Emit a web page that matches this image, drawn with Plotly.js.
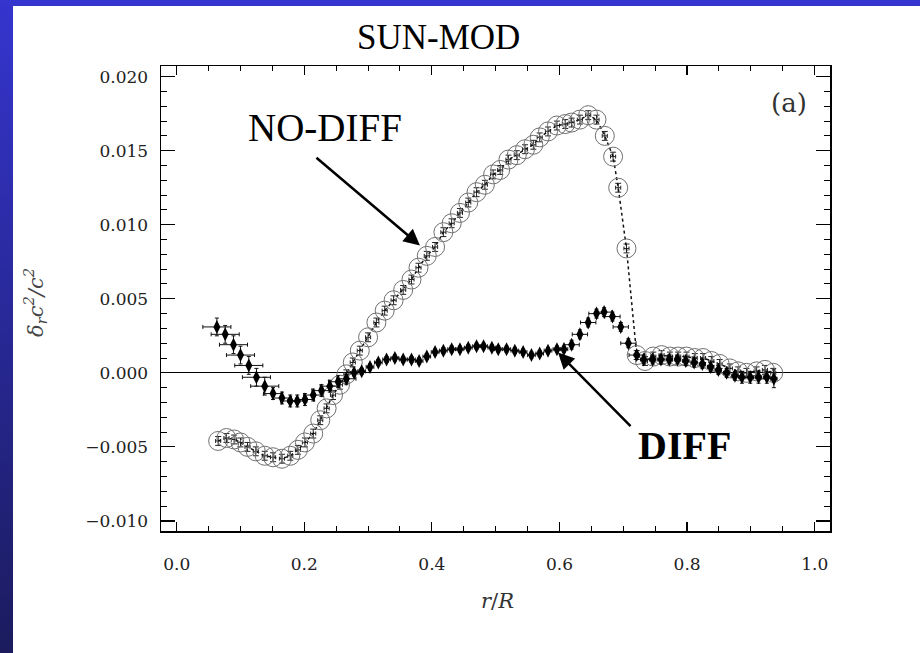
<!DOCTYPE html>
<html>
<head>
<meta charset="utf-8">
<script src="https://cdn.plot.ly/plotly-3.0.1.min.js"></script>
<style>
  html, body { margin: 0; padding: 0; }
  #frame { position: relative; width: 920px; height: 653px; background: linear-gradient(to bottom, #3535cf, #1b1b5e); overflow: hidden; }
  #panel { position: absolute; left: 13px; top: 6px; width: 907px; height: 647px; background: #ffffff; }
  #chart { position: absolute; left: 0; top: 0; width: 920px; height: 653px; }
</style>
</head>
<body>
<div id="frame"><div id="panel"></div><div id="chart"></div></div>
<script>
// NO-DIFF (open circles)
const xNoDiff = [0.065,0.078,0.090,0.100,0.111,0.124,0.138,0.151,0.165,0.178,0.190,0.201,0.214,0.225,0.235,0.245,0.256,0.266,0.276,0.287,
  0.300,0.313,0.326,0.340,0.355,0.368,0.379,0.392,0.405,0.418,0.431,0.444,0.457,0.470,0.483,0.496,0.507,0.520,0.533,0.546,
  0.559,0.569,0.582,0.596,0.609,0.619,0.632,0.645,0.658,0.671,0.684,0.692,0.705,0.721,0.734,0.747,0.760,0.773,0.786,0.799,
  0.812,0.825,0.838,0.851,0.867,0.880,0.893,0.909,0.922,0.935];
const yNoDiff = [-0.0046,-0.0044,-0.0045,-0.0047,-0.0050,-0.0053,-0.0056,-0.0057,-0.0058,-0.0056,-0.0052,-0.0047,-0.0041,-0.0032,-0.0024,-0.0015,-0.0008,-0.0001,0.0007,0.0015,
  0.0024,0.0034,0.0042,0.0049,0.0056,0.0063,0.0071,0.0079,0.0085,0.0095,0.0101,0.0108,0.0115,0.0122,0.0127,0.0134,0.0137,0.0144,0.0147,0.0151,
  0.0154,0.0159,0.0163,0.0167,0.0168,0.0169,0.0171,0.0174,0.0171,0.0160,0.0146,0.0125,0.0084,0.0012,0.0008,0.0011,0.0012,0.0011,0.0011,0.0011,
  0.0010,0.0010,0.0008,0.0006,0.0003,0.0001,0.0000,0.0001,0.0002,0.0000];

// DIFF (filled diamonds)
const xDiff = [0.063,0.076,0.089,0.100,0.113,0.125,0.138,0.151,0.165,0.178,0.189,0.201,0.214,0.227,0.240,0.253,0.266,0.278,0.290,0.303,
  0.316,0.329,0.342,0.355,0.368,0.380,0.392,0.405,0.418,0.431,0.444,0.457,0.470,0.481,0.494,0.504,0.517,0.530,0.543,0.556,
  0.569,0.582,0.596,0.607,0.619,0.632,0.645,0.658,0.670,0.683,0.696,0.708,0.721,0.732,0.746,0.759,0.772,0.785,0.798,0.811,
  0.824,0.837,0.849,0.862,0.875,0.886,0.899,0.912,0.925,0.936];
const yDiff = [0.0031,0.0026,0.0019,0.0012,0.0005,-0.0003,-0.0009,-0.0014,-0.0017,-0.0019,-0.0019,-0.0018,-0.0015,-0.0012,-0.0009,-0.0006,-0.0004,0.0000,0.0001,0.0004,
  0.0007,0.0009,0.0010,0.0009,0.0009,0.0008,0.0011,0.0014,0.0015,0.0016,0.0016,0.0017,0.0018,0.0018,0.0017,0.0016,0.0016,0.0015,0.0014,0.0012,
  0.0013,0.0015,0.0016,0.0016,0.0019,0.0026,0.0034,0.0040,0.0041,0.0038,0.0031,0.0020,0.0012,0.0009,0.0009,0.0009,0.0009,0.0009,0.0008,0.0007,
  0.0006,0.0004,0.0002,0.0000,-0.0002,-0.0003,-0.0003,-0.0003,-0.0003,-0.0004];
const exDiff = [0.022,0.022,0.022,0.022,0.022,0.022,0.022,0.015,0.015,0.015,0.015,0.015,0.015,0.015,0.015,0.015,0.015,0.006,0.006,0.006,
  0.006,0.006,0.006,0.006,0.006,0.006,0.006,0.006,0.006,0.006,0.006,0.006,0.006,0.006,0.006,0.006,0.006,0.006,0.006,0.006,
  0.006,0.006,0.006,0.006,0.012,0.012,0.012,0.012,0.012,0.012,0.012,0.012,0.012,0.005,0.005,0.005,0.005,0.005,0.005,0.005,
  0.005,0.005,0.005,0.005,0.005,0.005,0.005,0.005,0.005,0.005];
const eyDiff = [0.0006,0.0006,0.0006,0.0006,0.0006,0.0006,0.0006,0.0004,0.0004,0.0004,0.0004,0.0004,0.0004,0.0004,0.0004,0.0004,0.0004,0.0002,0.0002,0.0002,
  0.0002,0.0002,0.0002,0.0002,0.0002,0.0002,0.0002,0.0002,0.0002,0.0002,0.0002,0.0002,0.0002,0.0002,0.0002,0.0002,0.0002,0.0002,0.0002,0.0002,
  0.0002,0.0002,0.0002,0.0002,0.0003,0.0003,0.0003,0.0003,0.0003,0.0003,0.0003,0.0003,0.0003,0.0003,0.0003,0.0003,0.0003,0.0003,0.0003,0.0003,
  0.0003,0.0003,0.0003,0.0003,0.0003,0.0004,0.0004,0.0004,0.0004,0.0006];

const xTickVals = [0.0, 0.2, 0.4, 0.6, 0.8, 1.0];
const yTickVals = [-0.010, -0.005, 0.000, 0.005, 0.010, 0.015, 0.020];

const traces = [
  {
    x: xNoDiff, y: yNoDiff, type: 'scatter', mode: 'lines+markers',
    line: { color: '#111', width: 1.5, dash: 'dot' },
    marker: { symbol: 'circle-open', size: 19, color: '#707070', line: { width: 1, color: '#707070' } },
    error_y: { type: 'constant', value: 0.0003, color: '#222', thickness: 1, width: 3 },
    error_x: { type: 'constant', value: 0.004, color: '#222', thickness: 1, width: 2 },
    showlegend: false, hoverinfo: 'x+y'
  },
  {
    x: xDiff, y: yDiff, type: 'scatter', mode: 'markers',
    marker: { symbol: 'diamond-tall', size: 10, color: '#000' },
    error_y: { type: 'data', array: eyDiff, color: '#111', thickness: 1, width: 2 },
    error_x: { type: 'data', array: exDiff, color: '#111', thickness: 1, width: 2 },
    showlegend: false, hoverinfo: 'x+y'
  }
];

const axisCommon = {
  showline: true, linecolor: '#000', linewidth: 1.5, mirror: 'ticks',
  ticks: 'inside', tickcolor: '#000', tickwidth: 1.2, showgrid: false,
  tickfont: { family: 'DejaVu Serif', size: 17, color: '#222' }
};

const layout = {
  width: 920, height: 653,
  paper_bgcolor: 'rgba(0,0,0,0)', plot_bgcolor: 'rgba(0,0,0,0)',
  margin: { l: 161, r: 90, t: 66, b: 122 },
  font: { family: 'Liberation Serif', color: '#000' },
  xaxis: Object.assign({}, axisCommon, {
    range: [-0.0246, 1.024], tickvals: xTickVals, tickformat: '.1f', ticklen: 9,
    zeroline: false, ticklabelstandoff: 17,
    minor: { dtick: 0.05, tick0: 0, ticklen: 5, ticks: 'inside', tickcolor: '#000', tickwidth: 1 }
  }),
  yaxis: Object.assign({}, axisCommon, {
    range: [-0.01068, 0.02072], tickvals: yTickVals, tickformat: '.3f', ticklen: 14,
    zeroline: true, zerolinecolor: '#000', zerolinewidth: 1.2, ticklabelstandoff: 8,
    minor: { dtick: 0.001, tick0: 0, ticklen: 6, ticks: 'inside', tickcolor: '#000', tickwidth: 1 }
  }),
  annotations: [
    { text: 'SUN-MOD', xref: 'paper', yref: 'paper', x: 0.4155, y: 1.062, xanchor: 'center', yanchor: 'middle',
      showarrow: false, font: { family: 'Liberation Serif', size: 35, color: '#000' } },
    { text: 'NO-DIFF', xref: 'paper', yref: 'paper', x: (325 - 161) / 669, y: (531 - 127) / 465, xanchor: 'center', yanchor: 'middle',
      showarrow: false, font: { family: 'Liberation Serif', size: 39, color: '#000' } },
    { text: '<b>DIFF</b>', xref: 'paper', yref: 'paper', x: (684 - 161) / 669, y: (531 - 445) / 465, xanchor: 'center', yanchor: 'middle',
      showarrow: false, font: { family: 'Liberation Serif', size: 40, color: '#000' } },
    { text: '', x: 0.3813, y: 0.0086, xref: 'x', yref: 'y', showarrow: true, ax: -105, ay: -89,
      arrowhead: 2, arrowsize: 1.3, arrowwidth: 2.5, arrowcolor: '#000' },
    { text: '', x: 0.5977, y: 0.00137, xref: 'x', yref: 'y', showarrow: true, ax: 74, ay: 75,
      arrowhead: 2, arrowsize: 1.3, arrowwidth: 2.5, arrowcolor: '#000' },
    { text: '(a)', x: 0.960, y: 0.01825, xref: 'x', yref: 'y', showarrow: false, xanchor: 'center', yanchor: 'middle',
      font: { family: 'DejaVu Serif', size: 26, color: '#333' } },
    { text: '<i>r</i>/<i>R</i>', xref: 'paper', yref: 'paper', x: (497 - 161) / 669, y: (531 - 601) / 465, xanchor: 'center', yanchor: 'middle',
      showarrow: false, font: { family: 'DejaVu Serif', size: 21, color: '#333' } },
    { text: '<i>δ<sub>r</sub>c<sup>2</sup>/c<sup>2</sup></i>', xref: 'paper', yref: 'paper', x: (35 - 161) / 669, y: (531 - 303) / 465,
      xanchor: 'center', yanchor: 'middle', textangle: -90,
      showarrow: false, font: { family: 'DejaVu Serif', size: 21, color: '#444' } }
  ]
};

Plotly.newPlot('chart', traces, layout, { displayModeBar: false, staticPlot: true });
</script>
</body>
</html>
